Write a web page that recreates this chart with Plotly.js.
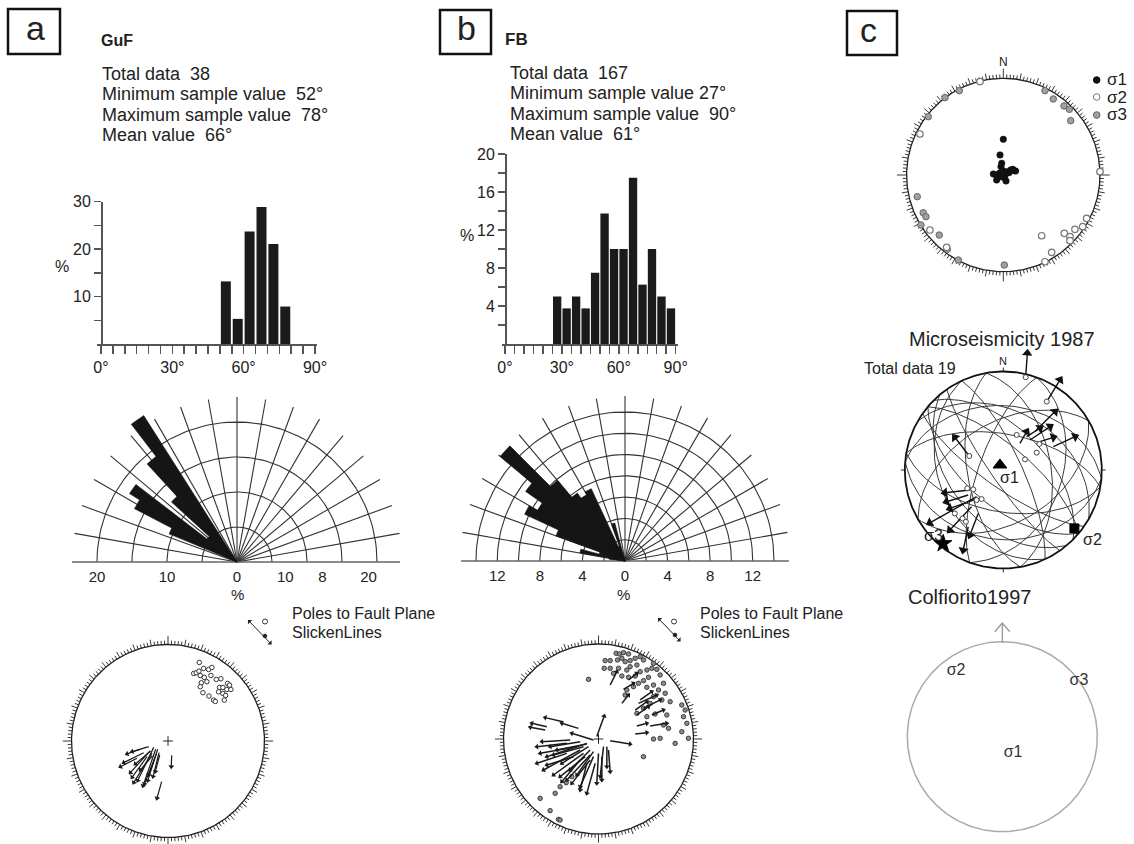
<!DOCTYPE html>
<html>
<head>
<meta charset="utf-8">
<script src="https://cdn.plot.ly/plotly-3.0.1.min.js"></script>
<style>html,body{margin:0;padding:0;background:#fff}#chart{width:1134px;height:844px}</style>
</head>
<body>
<div id="chart"></div>
<script>
// ===================== DATA =====================
// Histograms of fault dip (5° bins), percent
const histA_x   = [52.5, 57.5, 62.5, 67.5, 72.5, 77.5];
const histA_pct = [13.2, 5.3, 23.7, 28.9, 21.1, 7.9];
const histB_x   = [27.5, 32.5, 37.5, 42.5, 47.5, 52.5, 57.5, 62.5, 67.5, 72.5, 77.5, 82.5, 87.5];
const histB_pct = [5.0, 3.75, 5.0, 3.75, 7.5, 13.75, 10.0, 10.0, 17.5, 6.25, 10.0, 5.0, 3.75];
const hist_xlabelVals = [0, 30, 60, 90];
const hist_xlabels    = ['0°', '30°', '60°', '90°'];
const histA_ylabels   = [10, 20, 30];
const histB_ylabels   = [4, 8, 12, 16, 20];

// Rose diagrams of strike (5° bins, azimuth of bin centre), percent
const roseA_az  = [325, 320, 315, 310, 305, 300, 295];
const roseA_pct = [24.8, 19.0, 12.7, 5.4, 18.2, 16.5, 10.5];
const roseB_az  = [342.5, 337.5, 332.5, 327.5, 322.5, 317.5, 312.5, 307.5, 302.5, 297.5, 292.5, 287.5, 282.5, 277.5];
const roseB_pct = [3.7, 1.5, 7.5, 7.2, 7.8, 9.9, 15.3, 11.4, 9.5, 10.4, 6.9, 2.5, 4.3, 1.5];
const roseA_tickVals = [-20, -10, 0, 6.9, 12.2, 18.8];
const roseA_tickText = ['20', '10', '0', '10', '8', '20'];
const roseB_tickVals = [-12, -8, -4, 0, 4, 8, 12];
const roseB_tickText = ['12', '8', '4', '0', '4', '8', '12'];

// Stereonet a (equal-area, coordinates in % of net radius: east, north)
const polesA_x = [32.4, 26.6, 29.3, 32.1, 33.4, 36.9, 42.1, 45.5, 34.5, 33.4, 37.6, 44.5, 50.0, 54.8, 61.7, 53.4, 56.9, 61.0, 65.2, 56.9, 59.7, 47.2, 49.0, 42.4, 36.2, 58.3, 63.8, 52.4, 40.3];
const polesA_y = [81.4, 70.0, 70.7, 72.4, 67.9, 75.2, 74.1, 76.2, 60.3, 56.2, 65.9, 67.9, 63.8, 64.5, 59.7, 55.5, 55.5, 53.4, 53.4, 49.3, 47.2, 42.4, 41.0, 46.6, 50.0, 42.4, 57.9, 51.0, 61.4];
const slA_x0 = [-28.6, -20.0, -32.1, -25.2, -18.3, -16.6, -21.7, -14.8, -12.8, -10.7, -9.3, -14.1, -6.6, 3.8, -16.2, -18.3, -8.6, -12.1];
const slA_y0 = [-8.6, -5.9, -17.9, -12.1, -10.0, -12.8, -16.2, -6.6, -8.6, -8.6, -12.1, -19.0, -42.1, -14.8, -15.5, -10.7, -14.5, -13.4];
const slA_x1 = [-42.4, -37.2, -49.3, -45.9, -39.0, -35.5, -37.2, -31.4, -25.9, -21.0, -15.5, -24.5, -11.4, 3.4, -28.6, -33.8, -13.1, -20.0];
const slA_y1 = [-13.4, -11.0, -26.6, -22.4, -32.8, -43.1, -37.6, -41.0, -46.6, -41.0, -36.9, -44.5, -59.3, -26.6, -30.0, -23.8, -31.7, -35.2];

// Stereonet b
const polesB_x = [18.6, 22.1, 26.3, 31.6, 12.3, 20.0, 24.6, 28.1, 33.3, 38.6, 43.9, 47.4, 40.4, 33.3, 29.8, 21.1, 12.3, 7.0, 6.0, 15.8, 24.6, 31.6, 38.6, 43.9, 50.9, 56.1, 57.9, 61.4, 64.9, 52.6, 47.4, 42.1, 36.8, 29.8, 28.1, 50.9, 57.9, 63.2, 68.4, 70.2, 66.7, 75.4, 57.9, 54.4, 47.4, 40.4, 50.9, 59.6, 71.9, 87.7, 91.2, 89.5, 93.0, 68.4, 73.7, 57.9, 64.9, 80.7, 87.7, 94.7, 47.4, -10.5, -61.4, -50.9, -45.6, -42.1, -40.4, -40.4, -34.0, -28.1];
const polesB_y = [90.2, 89.5, 90.9, 89.5, 82.5, 83.2, 84.9, 81.4, 82.5, 84.9, 86.7, 83.2, 77.9, 76.1, 72.6, 74.4, 74.4, 82.5, 74.4, 69.1, 66.3, 64.9, 66.3, 70.9, 72.6, 74.4, 79.6, 73.3, 67.4, 64.9, 61.4, 58.6, 55.1, 51.6, 46.3, 54.4, 56.8, 51.6, 58.6, 48.1, 41.1, 39.3, 44.6, 37.5, 32.3, 27.0, 23.5, 26.3, 25.3, 35.8, 30.5, 23.5, 16.5, 14.7, 11.2, 0.0, 0.7, -4.6, 7.7, 0.7, -18.6, 62.8, -62.5, -75.4, -57.2, -84.6, -85.3, -50.2, -46.0, -39.6];
const slB_x0 = [12.3, 24.6, 40.4, 38.6, 42.1, 47.4, 43.9, 40.4, 38.6, 54.4, 56.1, 26.3, 31.6, -37.5, -54.4, -56.1, -21.1, -33.3, -22.8, -33.3, -19.3, -12.3, -15.8, -14.0, -8.8, -8.8, -5.3, -3.5, 5.3, 8.8, 10.5, -19.3, -12.3, -10.5, -29.8, -8.8, -5.3, -1.8, 12.3, -5.3, 0.0, -12.3, -19.3, -26.3, -15.8, 3.5];
const slB_y0 = [56.8, 37.5, 25.3, 30.5, 37.5, 32.3, 41.1, 13.7, 5.3, 13.7, 25.3, 52.3, 62.1, 18.2, 13.0, 9.5, 11.2, -4.6, -8.1, -15.1, -11.6, -4.6, -15.1, -18.6, -16.8, -22.1, -18.6, -25.6, -8.1, -8.1, -11.6, -2.8, -5.3, -8.1, -1.1, -11.6, -13.3, 2.5, -1.8, -1.1, -15.1, -25.6, -22.1, -18.6, -8.1, -18.6];
const slB_x1 = [19.3, 31.6, 52.6, 50.9, 61.4, 64.9, 56.1, 50.9, 50.9, 71.9, 68.4, 36.8, 40.4, -56.1, -70.2, -71.9, -38.6, -64.9, -61.4, -64.9, -57.9, -54.4, -47.4, -40.4, -33.3, -28.1, -19.3, -12.3, 1.8, 8.8, 12.3, -50.9, -43.9, -38.6, -59.6, -29.8, -22.8, 6.0, 33.3, -28.1, -1.8, -19.3, -38.6, -54.4, -47.4, 3.5];
const slB_y1 = [70.9, 46.3, 34.0, 39.3, 46.3, 41.1, 49.8, 16.5, 6.7, 16.5, 30.5, 58.6, 69.1, 22.5, 16.5, 12.3, 16.5, -8.1, -15.1, -25.6, -32.6, -18.6, -37.9, -39.6, -43.2, -46.7, -50.2, -57.2, -39.6, -29.1, -34.4, -8.1, -11.6, -25.6, -2.8, -32.6, -37.9, 24.2, -5.3, 6.0, -46.7, -53.7, -44.9, -27.4, -16.8, -43.2];

// Panel c, top: principal stress axes from fault-slip inversion
const s1_x = [0, -3.4, -1.7, -2.4, -10.3, -6.9, -4.1, -0.7, 1.7, 3.4, 5.9, 7.6, 9.7, 11.0, 12.8, 2.8, 0, -6.9, -3.4];
const s1_y = [36.9, 20.7, 12.1, 8.6, 1.0, -5.2, 1.7, 4.5, -0.7, 3.4, 2.4, 5.2, 5.9, 4.5, 4.1, -6.2, -2.4, 0, -1.7];
const s2_x = [-86.2, -24.1, 100, 39.7, 50.0, 43.1, 63.1, 69.0, 74.1, 82.1, 86.2, 69.0, -75.9, -58.6];
const s2_y = [42.4, 96.6, 3.4, -62.8, -80.0, -89.7, -60.3, -63.8, -56.2, -53.4, -44.8, -67.9, -56.9, -74.8];
const s3_x = [-89.0, -82.8, -80.0, -85.2, -66.2, -57.9, -46.6, 1.0, 43.1, 51.7, 62.8, 68.3, 69.7, -77.6, -45.5, -60.3];
const s3_y = [-22.4, -39.0, -43.1, -51.7, -62.1, -76.9, -87.9, -93.1, 87.2, 78.6, 71.4, 67.9, 56.2, 60.3, 87.2, 80.0];
const sigmaLegend = ['σ1', 'σ2', 'σ3'];

// Panel c, middle: Microseismicity 1987 (19 focal planes: strike, dip, right-hand rule)
const ms_strike = [315, 310, 300, 130, 140, 125, 95, 275, 100, 280, 350, 170, 155, 335, 20, 200, 60, 240, 145];
const ms_dip    = [55, 70, 40, 60, 45, 75, 30, 35, 55, 60, 50, 60, 35, 75, 40, 70, 45, 50, 80];
const msA_x0 = [22.7, 44.1, 32.2, 27.1, 37.3, 50.8, 16.9, -34.6, -33.9, -35.6, -30.5, -27.1, -32.2, -35.6, -25.4, 23.7];
const msA_y0 = [94.2, 69.5, 39.0, 30.5, 28.8, 23.7, 27.1, 14.2, -20.3, -25.4, -30.5, -27.1, -37.3, -57.6, -44.1, 33.9];
const msA_x1 = [24.4, 57.6, 52.5, 47.5, 50.8, 72.9, 23.7, -49.2, -59.3, -57.6, -54.2, -74.6, -54.2, -40.7, -33.9, 37.3];
const msA_y1 = [118.6, 91.5, 59.3, 44.1, 33.2, 33.9, 39.0, 33.2, -23.1, -32.2, -39.0, -53.6, -61.0, -81.4, -66.1, 42.4];
const msP_x = [22.7, 44.1, 13.6, 22.0, 33.9, 36.6, -34.6, -36.6, -30.5, -27.1, -22.0, -49.2, -41.4, -38.0];
const msP_y = [94.2, 69.5, 35.6, 10.8, 17.6, 26.4, 14.2, -18.6, -19.7, -30.5, -29.5, -44.1, -49.2, -52.5];
const ms_sig_x = [-3.4, 72.2, -61.0];
const ms_sig_y = [5.1, -59.3, -74.6];

// Panel c, bottom: Colfiorito 1997
const colf_x = [11.3, -48.7, 80.7];
const colf_y = [-17.2, 69.2, 58.6];

// Text
const statsA = ['Total data\u00a0 38', 'Minimum sample value\u00a0 52°', 'Maximum sample value\u00a0 78°', 'Mean value\u00a0 66°'];
const statsB = ['Total data\u00a0 167', 'Minimum sample value 27°', 'Maximum sample value\u00a0 90°', 'Mean value\u00a0 61°'];

// ===================== DRAWING =====================
const W = 1134, H = 844, D = Math.PI / 180;
const FONT = 'Liberation Sans, Arial, Helvetica, sans-serif';
const traces = [];
const layout = {
  width: W, height: H, margin: {l: 0, r: 0, t: 0, b: 0, pad: 0},
  paper_bgcolor: '#ffffff', plot_bgcolor: 'rgba(0,0,0,0)',
  showlegend: false, hovermode: false,
  font: {family: FONT, color: '#222', size: 16},
  annotations: [], shapes: []
};
let nAx = 0;
function axes(box, cx, cy, s, sy) {
  sy = sy || s; nAx++;
  const k = nAx === 1 ? '' : String(nAx);
  const base = {showgrid: false, zeroline: false, showline: false, ticks: '', showticklabels: false, fixedrange: true};
  const xa = Object.assign({}, base, {domain: [box[0] / W, box[2] / W], range: [(box[0] - cx) / s, (box[2] - cx) / s], anchor: 'y' + k});
  const ya = Object.assign({}, base, {domain: [1 - box[3] / H, 1 - box[1] / H], range: [(cy - box[3]) / sy, (cy - box[1]) / sy], anchor: 'x' + k});
  layout['xaxis' + k] = xa; layout['yaxis' + k] = ya;
  return {x: 'x' + k, y: 'y' + k, xa, ya};
}
function addLine(ax, x, y, color, width, extra) {
  traces.push(Object.assign({type: 'scatter', mode: 'lines', x, y, line: {color, width}, xaxis: ax.x, yaxis: ax.y, hoverinfo: 'skip'}, extra || {}));
}
function txt(x, y, text, size, extra) {
  layout.annotations.push(Object.assign({xref: 'paper', yref: 'paper', x: x / W, y: 1 - y / H, text, showarrow: false,
    font: {family: FONT, size, color: '#222'}, xanchor: 'center', yanchor: 'middle'}, extra || {}));
}
function pcircle(x, y, r, fill, lc) {
  layout.shapes.push({type: 'circle', xref: 'paper', yref: 'paper', x0: (x - r) / W, x1: (x + r) / W, y0: 1 - (y + r) / H, y1: 1 - (y - r) / H, fillcolor: fill, line: {color: lc, width: 1}});
}
function prect(x0, y0, x1, y1) {
  layout.shapes.push({type: 'rect', xref: 'paper', yref: 'paper', x0: x0 / W, x1: x1 / W, y0: 1 - y1 / H, y1: 1 - y0 / H, line: {color: '#111', width: 2.5}});
}

// ---------- histograms ----------
function hist(box, x0px, y0px, sx, sy, xs, pct, width, step, yMax, ylabels) {
  const ax = axes(box, x0px, y0px, sx, sy);
  const xt = [], xl = [];
  for (let v = 0; v <= 90; v += 5) { xt.push(v); const i = hist_xlabelVals.indexOf(v); xl.push(i >= 0 ? hist_xlabels[i] : ''); }
  Object.assign(ax.xa, {showline: true, linecolor: '#555', linewidth: 1.5, ticks: 'outside', ticklen: 8, tickwidth: 1.5, tickcolor: '#555',
    tickmode: 'array', tickvals: xt, ticktext: xl, showticklabels: true, tickfont: {family: FONT, size: 16, color: '#222'}});
  const yt = [], yl = [];
  for (let v = step; v <= yMax + 1e-9; v += step) { yt.push(v); yl.push(ylabels.indexOf(v) >= 0 ? String(v) : ''); }
  Object.assign(ax.ya, {showline: true, linecolor: '#555', linewidth: 1.5, ticks: 'outside', ticklen: 7, tickwidth: 1.5, tickcolor: '#555',
    tickmode: 'array', tickvals: yt, ticktext: yl, showticklabels: true, anchor: 'free', position: x0px / W,
    tickfont: {family: FONT, size: 16, color: '#222'}});
  traces.push({type: 'bar', x: xs, y: pct, width, marker: {color: '#1b1b1b', line: {width: 0}}, xaxis: ax.x, yaxis: ax.y, hoverinfo: 'skip'});
}
hist([97, 201.7, 317, 344], 101, 344, 214 / 90, 142.3 / 30, histA_x, histA_pct, 4.2, 5, 30, histA_ylabels);
hist([502, 154, 678, 344], 505, 344, 170.7 / 90, 9.5, histB_x, histB_pct, 4.4, 2, 20, histB_ylabels);

// ---------- rose diagrams ----------
function rose(box, cx, cy, s, ringStep, rings, spokeLen, baseL, baseR, az, pct, tv, tt) {
  const ax = axes(box, cx, cy, s);
  Object.assign(ax.xa, {tickmode: 'array', tickvals: tv, ticktext: tt, showticklabels: true, tickfont: {family: FONT, size: 15, color: '#222'}});
  const gx = [], gy = [];
  for (let k = 1; k <= rings; k++) {
    const r = k * ringStep;
    for (let a = 0; a <= 180; a += 2) { gx.push(r * Math.cos(a * D)); gy.push(r * Math.sin(a * D)); }
    gx.push(null); gy.push(null);
  }
  for (let a = 10; a < 180; a += 10) { gx.push(0, spokeLen * Math.cos(a * D), null); gy.push(0, spokeLen * Math.sin(a * D), null); }
  addLine(ax, gx, gy, '#333', 1.1);
  addLine(ax, [baseL, baseR], [0, 0], '#666', 1.6);
  const px = [], py = [];
  az.forEach((t, i) => {
    px.push(0); py.push(0);
    for (let a = t - 2.5; a <= t + 2.5 + 1e-9; a += 1.25) { px.push(pct[i] * Math.sin(a * D)); py.push(pct[i] * Math.cos(a * D)); }
    px.push(0, null); py.push(0, null);
  });
  addLine(ax, px, py, '#151515', 0.6, {fill: 'toself', fillcolor: '#151515'});
}
rose([66, 388, 404, 566], 237, 562, 7, 5, 4, 23.57, -23.57, 23.3, roseA_az, roseA_pct, roseA_tickVals, roseA_tickText);
rose([455, 388, 797, 565], 625, 561, 149 / 14, 2, 7, 15.5, -15.4, 15.4, roseB_az, roseB_pct, roseB_tickVals, roseB_tickText);

// ---------- stereonets ----------
function netFrame(ax, color, width, ticks, cardLen) {
  const cx = [], cy = [];
  for (let a = 0; a <= 360; a += 1) { cx.push(Math.sin(a * D)); cy.push(Math.cos(a * D)); }
  addLine(ax, cx, cy, color, width);
  const tx = [], ty = [];
  for (let a = 0; a < 360; a += (ticks ? 2 : 90)) {
    const L = a % 90 === 0 ? cardLen : (a % 10 === 0 ? 0.065 : 0.04);
    tx.push(Math.sin(a * D), (1 + L) * Math.sin(a * D), null);
    ty.push(Math.cos(a * D), (1 + L) * Math.cos(a * D), null);
  }
  addLine(ax, tx, ty, color, 0.9);
}
function cross(ax) { addLine(ax, [-0.05, 0.05, null, 0, 0], [0, 0, null, -0.05, 0.05], '#222', 1); }
function pct(a) { return a.map(v => v / 100); }
function arrows(ax, x0, y0, x1, y1, lw, hs, col) {
  const lx = [], ly = [], ang = [];
  for (let i = 0; i < x0.length; i++) {
    lx.push(x0[i] / 100, x1[i] / 100, null); ly.push(y0[i] / 100, y1[i] / 100, null);
    ang.push(Math.atan2(x1[i] - x0[i], y1[i] - y0[i]) / D);
  }
  addLine(ax, lx, ly, col, lw);
  traces.push({type: 'scatter', mode: 'markers', x: pct(x1), y: pct(y1), marker: {symbol: 'triangle-up', size: hs, angle: ang, color: col, line: {width: 0}},
    xaxis: ax.x, yaxis: ax.y, hoverinfo: 'skip', cliponaxis: false});
}
function pts(ax, xs, ys, marker) {
  traces.push({type: 'scatter', mode: 'markers', x: pct(xs), y: pct(ys), marker, xaxis: ax.x, yaxis: ax.y, hoverinfo: 'skip', cliponaxis: false});
}

// a
const nA = axes([55, 626, 290, 844], 168, 741, 96.5);
netFrame(nA, '#222', 1.3, true, 0.09); cross(nA);
pts(nA, polesA_x, polesA_y, {symbol: 'circle', size: 4.5, color: '#ffffff', line: {color: '#333', width: 1}});
arrows(nA, slA_x0, slA_y0, slA_x1, slA_y1, 1.2, 5, '#1a1a1a');
// b
const nB = axes([488, 626, 712, 844], 598.5, 739, 95);
netFrame(nB, '#222', 1.3, true, 0.09); cross(nB);
pts(nB, polesB_x, polesB_y, {symbol: 'circle', size: 4.5, color: '#8a8a8a', line: {color: '#333', width: 0.9}});
arrows(nB, slB_x0, slB_y0, slB_x1, slB_y1, 1.5, 5, '#1a1a1a');
// c top
const nC1 = axes([885, 52, 1125, 290], 1003.3, 175, 96.7);
netFrame(nC1, '#222', 1.3, true, 0.1);
pts(nC1, s3_x, s3_y, {symbol: 'circle', size: 6.5, color: '#a0a0a0', line: {color: '#666', width: 1}});
pts(nC1, s2_x, s2_y, {symbol: 'circle', size: 6.5, color: '#ffffff', line: {color: '#777', width: 1.2}});
pts(nC1, s1_x, s1_y, {symbol: 'circle', size: 6.5, color: '#111', line: {color: '#111', width: 0.5}});
// c middle
const nC2 = axes([890, 350, 1118, 580], 1003.3, 470, 98.5);
(function () {
  const gx = [], gy = [];
  for (let i = 0; i < ms_strike.length; i++) {
    const s = ms_strike[i] * D, d = ms_dip[i] * D, dd = (ms_strike[i] + 90) * D;
    for (let a = 0; a <= 180; a += 3) {
      const A = a * D;
      const n = Math.cos(A) * Math.cos(s) + Math.sin(A) * Math.cos(d) * Math.cos(dd);
      const e = Math.cos(A) * Math.sin(s) + Math.sin(A) * Math.cos(d) * Math.sin(dd);
      const z = Math.min(1, Math.sin(A) * Math.sin(d));
      const pl = Math.asin(z), tr = Math.atan2(e, n);
      const r = Math.SQRT2 * Math.sin((Math.PI / 2 - pl) / 2);
      gx.push(r * Math.sin(tr)); gy.push(r * Math.cos(tr));
    }
    gx.push(null); gy.push(null);
  }
  addLine(nC2, gx, gy, '#3a3a3a', 1);
})();
netFrame(nC2, '#111', 1.8, false, 0.04);
arrows(nC2, msA_x0, msA_y0, msA_x1, msA_y1, 1.4, 9, '#111');
pts(nC2, msP_x, msP_y, {symbol: 'circle', size: 5, color: '#ffffff', line: {color: '#444', width: 1}});
traces.push({type: 'scatter', mode: 'markers', x: pct(ms_sig_x), y: pct(ms_sig_y), xaxis: nC2.x, yaxis: nC2.y, hoverinfo: 'skip', cliponaxis: false,
  marker: {symbol: ['triangle-up', 'square', 'star'], size: [12, 9, 13], color: '#000000', opacity: 1, line: {color: '#000000', width: 1}}});
const sigOff = [[10, -13], [18, -11], [-10, 8]];
ms_sig_x.forEach((v, i) => {
  layout.annotations.push({xref: nC2.x, yref: nC2.y, x: v / 100, y: ms_sig_y[i] / 100, text: sigmaLegend[i], showarrow: false,
    xshift: sigOff[i][0], yshift: sigOff[i][1], font: {family: FONT, size: 16, color: '#222'}});
});
// c bottom
const nC3 = axes([895, 612, 1112, 844], 1002.3, 736.7, 95);
netFrame(nC3, '#aaaaaa', 1.5, false, 0);
addLine(nC3, [0, 0, null, -0.079, 0, 0.079], [0.99, 1.197, null, 1.105, 1.197, 1.105], '#999', 1.3);
traces.push({type: 'scatter', mode: 'text', x: pct(colf_x), y: pct(colf_y), text: sigmaLegend, textfont: {family: FONT, size: 16, color: '#333'},
  xaxis: nC3.x, yaxis: nC3.y, hoverinfo: 'skip', cliponaxis: false});

// ---------- text & decorations ----------
prect(8, 9, 60, 54); txt(35, 28, 'a', 34);
prect(440, 10, 491, 54); txt(466, 28, 'b', 34);
prect(847, 11, 897, 55); txt(868, 30, 'c', 34);
txt(99, 41, '<b>GuF</b>', 16, {xanchor: 'left'});
txt(503, 39, '<b>FB</b>', 17, {xanchor: 'left'});
const statY = [74, 94, 114.5, 134.5];
statsA.forEach((s, i) => txt(100, statY[i], s, 18, {xanchor: 'left'}));
statsB.forEach((s, i) => txt(507.5, statY[i] - 0.7, s, 18, {xanchor: 'left'}));
txt(62, 266, '%', 16);
txt(467, 235, '%', 16);
txt(237, 594, '%', 15);
txt(623, 594, '%', 15);
// legends of fault data
[[290, 265, 248, 620, 273, 646, 265, 636], [698, 674, 658, 618, 682, 643, 675, 635]].forEach(L => {
  txt(L[0], 613, 'Poles to Fault Plane', 16, {xanchor: 'left'});
  txt(L[0], 632, 'SlickenLines', 16, {xanchor: 'left'});
  pcircle(L[1], 621.5, 2.5, '#fff', '#333');
  layout.annotations.push({xref: 'paper', yref: 'paper', x: L[2] / W, y: 1 - L[3] / H, ax: L[4] - L[2], ay: L[5] - L[3], text: '',
    showarrow: true, arrowhead: 1, arrowside: 'end+start', arrowsize: 1, arrowwidth: 1, arrowcolor: '#222'});
  pcircle(L[6], L[7], 1.8, '#222', '#222');
});
// panel c texts
txt(1003, 62, 'N', 12);
const legY = [80, 97, 115];
pcircle(1096.7, legY[0], 3.3, '#111', '#111');
pcircle(1096.7, legY[1], 3.3, '#fff', '#777');
pcircle(1096.7, legY[2], 3.3, '#a0a0a0', '#666');
sigmaLegend.forEach((s, i) => txt(1105, legY[i], s, 17, {xanchor: 'left'}));
txt(1002, 339, 'Microseismicity 1987', 20);
txt(862, 368, 'Total data 19', 16, {xanchor: 'left'});
txt(1003, 361, 'N', 11);
txt(969, 597, 'Colfiorito1997', 20);

Plotly.newPlot('chart', traces, layout, {staticPlot: true, displayModeBar: false});
</script>
</body>
</html>
